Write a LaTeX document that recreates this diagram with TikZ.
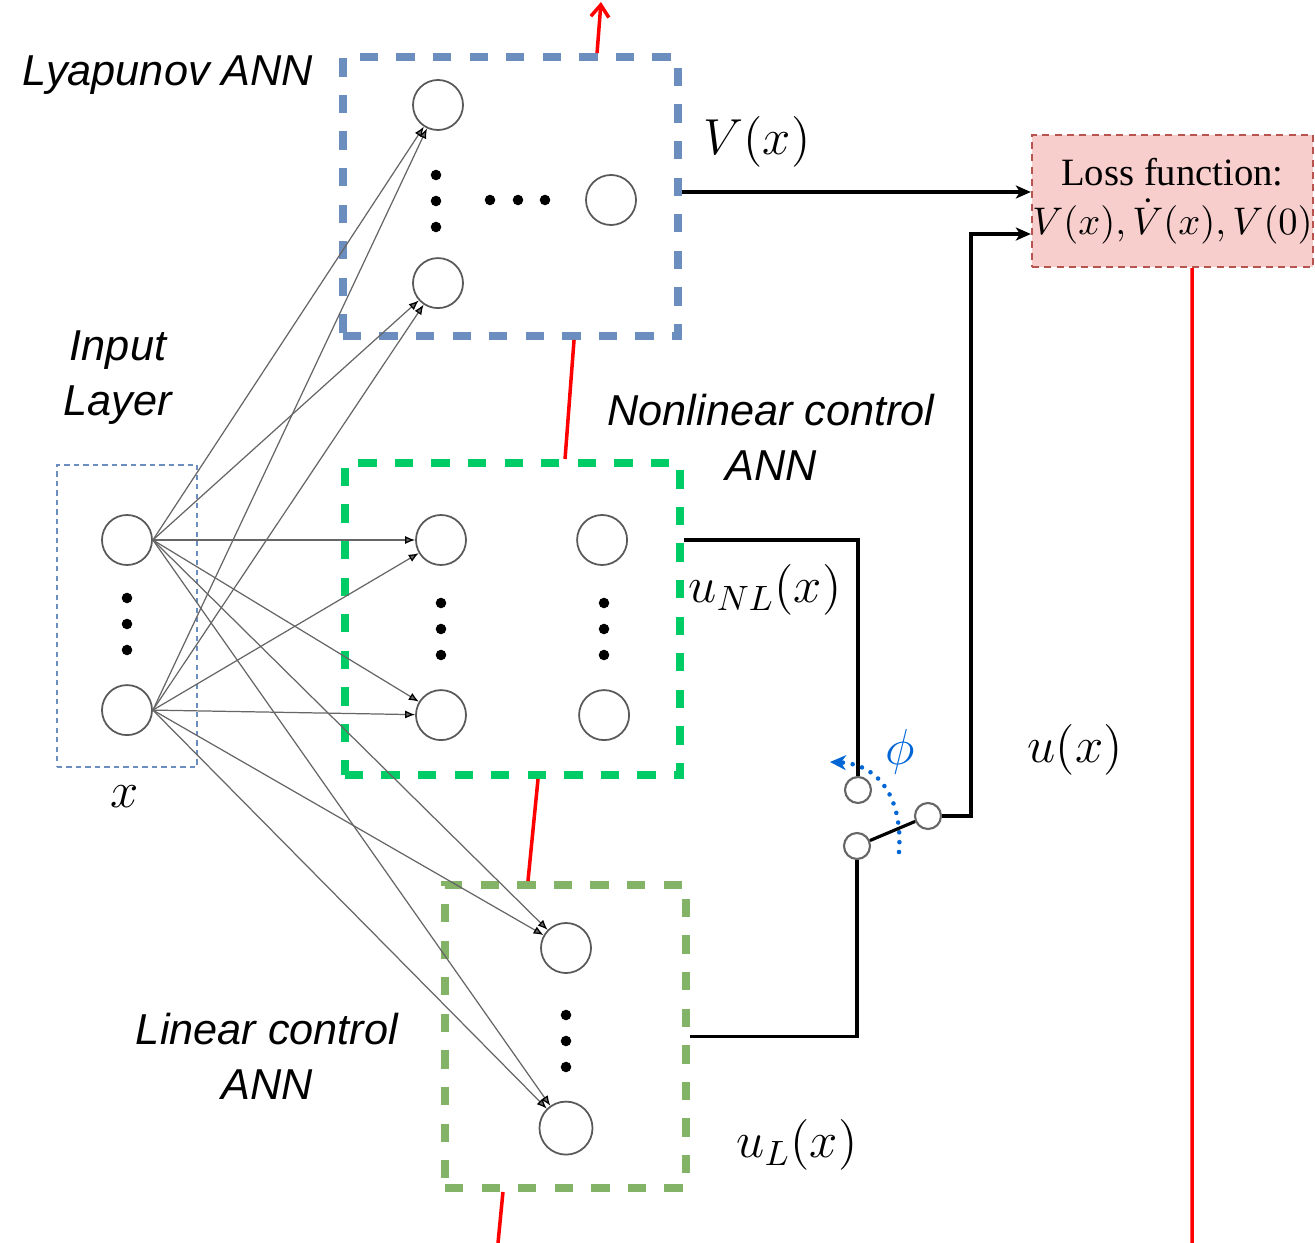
\documentclass[tikz,border=0pt]{standalone}
\usepackage{amsmath}
\usepackage{fontspec}
\setsansfont{Liberation Sans}
\newfontfamily\lossfont{Liberation Serif}
\usepackage{tikz}
\usetikzlibrary{positioning,arrows.meta}

\definecolor{lyablue}{HTML}{6C8EBF}
\definecolor{nlgreen}{HTML}{00CC66}
\definecolor{lingreen}{HTML}{82B366}
\definecolor{losspink}{HTML}{F8CECC}
\definecolor{lossred}{HTML}{B85450}
\definecolor{phiblue}{RGB}{0,102,214}

\tikzset{
  neuron/.style={circle,draw=black!65,line width=0.5pt,minimum size=0.5cm,inner sep=0pt},
  contact/.style={circle,draw=black!60,line width=0.6pt,fill=white,minimum size=0.26cm,inner sep=0pt},
  annbox/.style={draw=#1,line width=2.2pt,dash pattern=on 5.2pt off 5.2pt,inner sep=0pt},
  inbox/.style={draw=lyablue,line width=0.5pt,dash pattern=on 1.5pt off 1.2pt,inner sep=0pt},
  lossbox/.style={draw=lossred,fill=losspink,line width=0.6pt,dash pattern=on 2pt off 1.5pt,
    minimum width=2.81cm,minimum height=1.32cm,inner sep=0pt,align=center,
    font=\fontsize{11}{14}\selectfont},
  annlabel/.style={font=\sffamily\itshape\fontsize{12.3}{15.6}\selectfont,align=center},
  mathlabel/.style={font=\fontsize{14}{16}\selectfont},
  weight/.style={black!60,line width=0.35pt,-{Latex[length=1mm,width=0.8mm,black]}},
  sig/.style={line width=0.9pt,-{Stealth[length=1.5mm,width=1.3mm,inset=0.4mm]}},
  wire/.style={line width=0.9pt},
  feedback/.style={red,line width=1pt},
  vdots/.pic={\fill (0,-26) circle[radius=1.5pt] (0,0) circle[radius=1.5pt] (0,26) circle[radius=1.5pt];},
  hdots/.pic={\fill (-28,0) circle[radius=1.5pt] (0,0) circle[radius=1.5pt] (27,0) circle[radius=1.5pt];}
}

\begin{document}
\begin{tikzpicture}[x=0.01cm,y=-0.01cm,node distance=1.75cm,on grid]
  \useasboundingbox (0,0) rectangle (1315,1243);

  % network blocks
  \node[annbox=lyablue,minimum width=3.35cm,minimum height=2.79cm] (lya) at (510.5,196.5) {};
  \node[annbox=nlgreen,minimum width=3.35cm,minimum height=3.12cm] (nlbox) at (512.5,619) {};
  \node[annbox=lingreen,minimum width=2.41cm,minimum height=3.03cm] (linbox) at (565.5,1036.5) {};
  \node[inbox,minimum width=1.40cm,minimum height=3.02cm] (inbox) at (127,616) {};
  \node[lossbox] (loss) at (1172.5,201) {\lossfont Loss function:\\ $V(x),\dot{V}(x),V(0)$};

  % neurons
  \node[neuron] (in1) at (127,540) {};
  \node[neuron] (in2) [below=1.70cm of in1] {};
  \node[neuron] (l1) at (438,105) {};
  \node[neuron] (l2) [below=1.78cm of l1] {};
  \node[neuron] (lo) at (611,200) {};
  \node[neuron] (n1) at (441,540) {};
  \node[neuron] (n2) [below=of n1] {};
  \node[neuron] (no1) [right=1.61cm of n1] {};
  \node[neuron] (no2) [right=1.63cm of n2] {};
  \node[neuron] (c1) at (566,948) {};
  \node[neuron,minimum size=0.53cm] (c2) [below=1.80cm of c1] {};

  \pic at (127,624) {vdots};
  \pic at (436,201) {vdots};
  \pic at (518,200) {hdots};
  \pic at (441,629) {vdots};
  \pic at (604,629) {vdots};
  \pic at (566,1041) {vdots};

  % weights
  \path[weight]
  (in1.east)
  edge (l1) edge (l2) edge (n1) edge (n2) edge (c1) edge (c2)
  (in2.east)
  edge (l1) edge (l2) edge (n1) edge (n2) edge (c1) edge (c2)
  ;

  % labels
  \node[annlabel] (lyalabel) at (168,75) {Lyapunov ANN};
  \node[annlabel] (inlabel) at (118,378) {Input\\Layer};
  \node[annlabel] (nllabel) at (771,437) {Nonlinear control\\ANN};
  \node[annlabel] (linlabel) at (267,1056) {Linear control\\ANN};
  \node[mathlabel] (xlabel) at (125,797) {$x$};
  \node[mathlabel] (vlabel) at (757,142) {$V(x)$};
  \node[mathlabel] (unllabel) at (765,590) {$u_{NL}(x)$};
  \node[mathlabel] (ullabel) at (797,1145) {$u_L(x)$};
  \node[mathlabel] (ulabel) at (1075,750) {$u(x)$};
  \node[mathlabel,text=phiblue] (philabel) at (900,752) {$\phi$};

  % switch
  \node[contact] (sw1) at (858,790) {};
  \node[contact] (sw2) at (857,846) {};
  \node[contact] (swo) at (928,816) {};
  \coordinate (phis) at (899,852);
  \coordinate (phie) at (830,762);
  \draw[phiblue,line width=1.3pt,line cap=round,dash pattern=on 0pt off 2.8pt,
    -{Stealth[length=1.6mm,width=1.5mm]}]
    (phis) .. controls (903,800) and (880,764) .. (phie);

  % signals
  \coordinate (vout) at ([yshift=0.045cm]lya.east);
  \coordinate (uin) at ([yshift=-0.33cm]loss.west);
  \draw[sig] (vout) -- (vout -| loss.west);
  \draw[wire] (nlbox.east |- no1) -| (sw1);
  \draw[wire] (linbox.east) -| (sw2);
  \draw[wire] (sw2) -- (swo);
  \draw[sig] (swo.east) -- ++(29,0) |- (uin);

  % training feedback
  \coordinate (topout) at (601,2);
  \coordinate (botout) at (498,1243);
  \coordinate (lossout) at (1192,1243);
  \draw[feedback,-{Straight Barb[length=1.2mm,width=1.8mm]}] ([xshift=0.865cm]lya.north) -- (topout);
  \draw[feedback] ([xshift=0.635cm]lya.south) -- ([xshift=0.525cm]nlbox.north);
  \draw[feedback] ([xshift=0.255cm]nlbox.south) -- ([xshift=-0.375cm]linbox.north);
  \draw[feedback] ([xshift=-0.625cm]linbox.south) -- (botout);
  \draw[feedback] ([xshift=0.195cm]loss.south) -- (lossout);
\end{tikzpicture}
\end{document}
